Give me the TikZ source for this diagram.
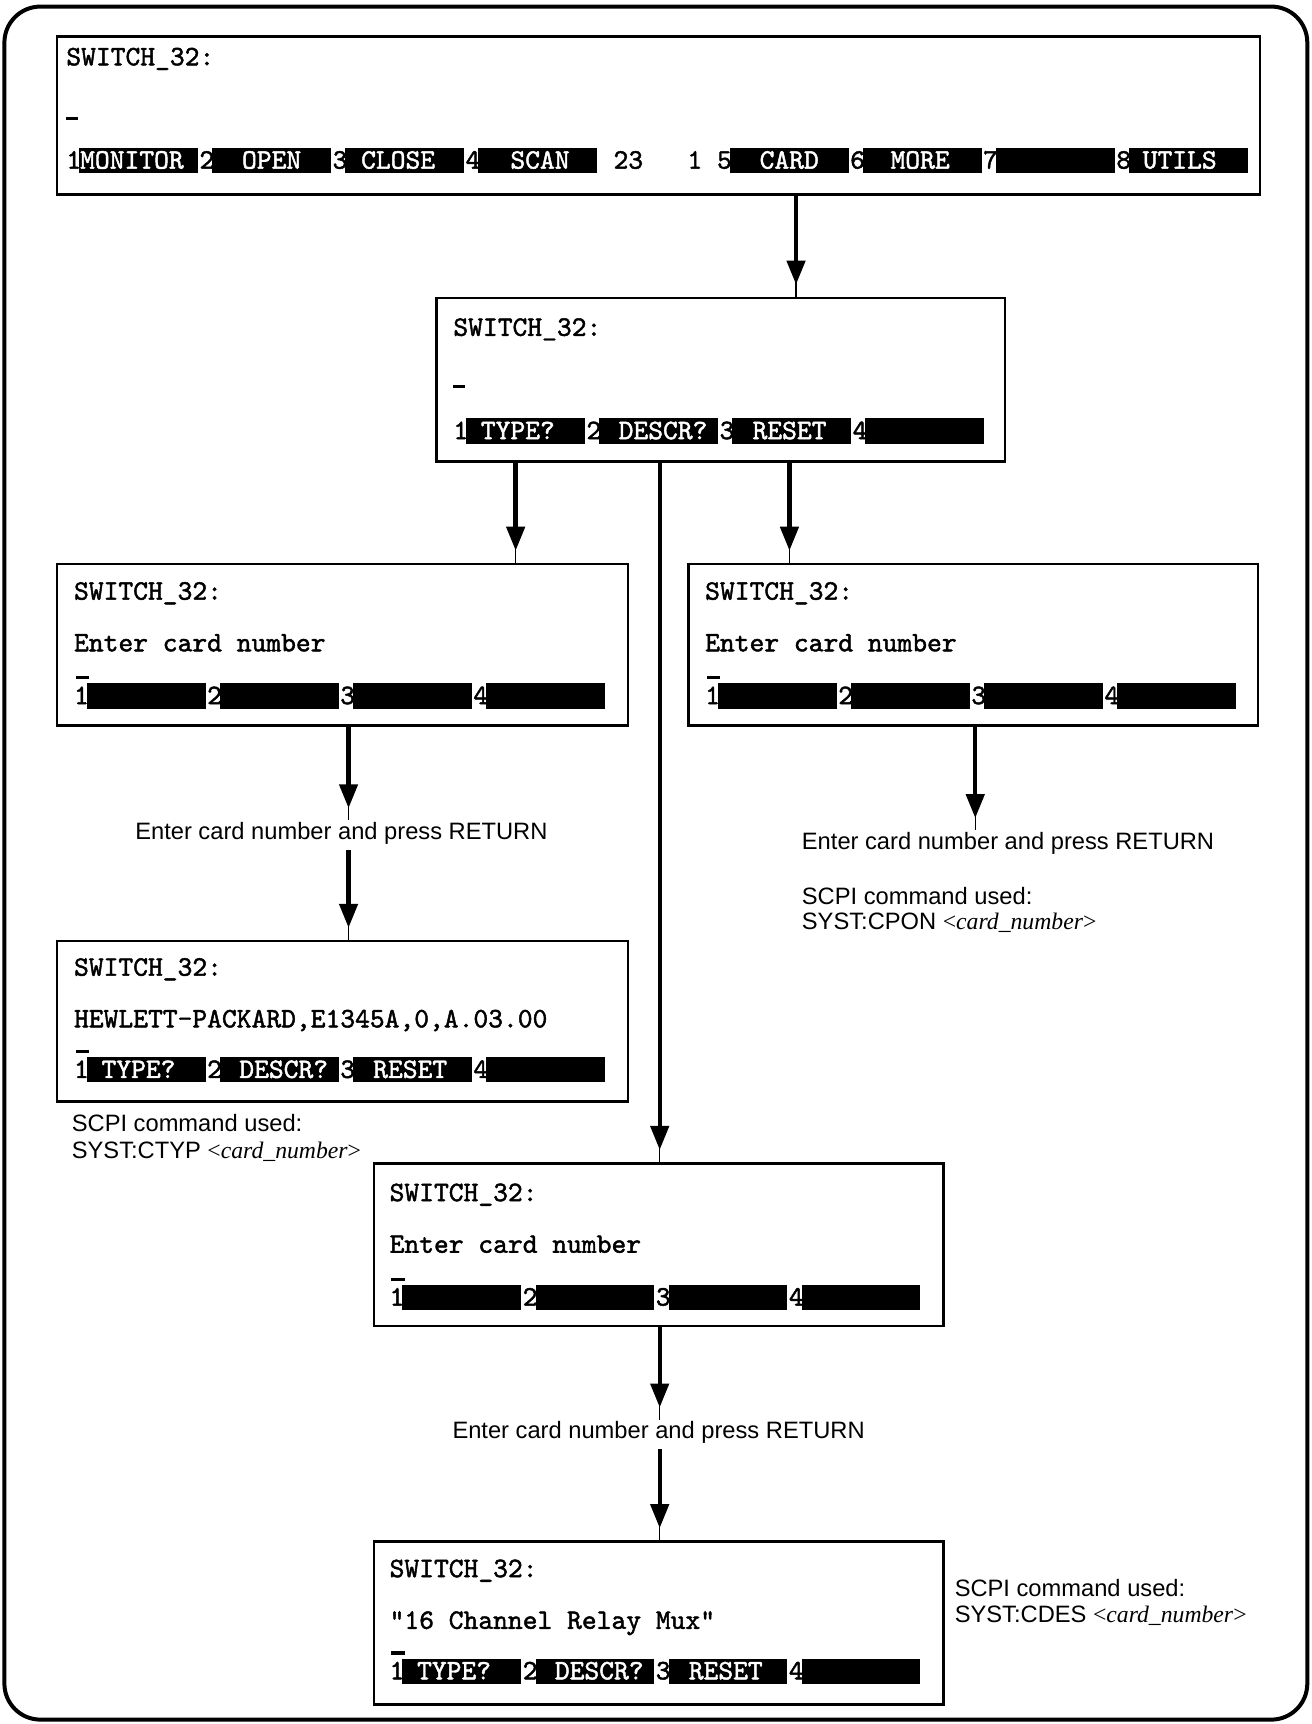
\documentclass[tikz,border=0pt]{standalone}
\usepackage{fontspec}
\setmainfont{Liberation Sans}
\newfontfamily\cmdserif{Liberation Serif}
\newfontfamily\scrface{lmmono10-regular}[Extension=.otf, FakeBold=1.6]
\usetikzlibrary{arrows.meta,fit}

\newcommand\scrfont{\scrface\fontsize{14.09pt}{16pt}\selectfont}
\newcommand\capfont{\fontsize{11.85pt}{14pt}\selectfont}
\newcommand\cardarg{{\cmdserif<\textit{card\_number}>}}

\tikzset{
  screen/.style={draw, line width=1.3pt, inner sep=0pt},
  scr/.style={font=\scrfont, inner sep=0pt},
  inv/.style={scr, text=white},
  caption/.style={font=\capfont, inner sep=0pt, text height=9.5pt, text depth=5pt},
  note/.style={font=\capfont, inner sep=0pt, anchor=base west},
  flow/.style={line width=2.2pt, -{Triangle[width=9pt,length=12pt]}, shorten >=6pt},
  tail/.style={line width=0.7pt},
  frame/.style={line width=2pt, rounded corners=18pt},
}

% soft key row: #1 name prefix, #2 x of first digit, #3 row centre y,
% #4 list of column/digit/label/label shift
\newcommand\keyrow[4]{%
  \foreach \kc/\kd/\klab/\ksh in {#4} {
    \fill ({#2+\kc*13.45+12},{#3-11.5}) rectangle ({#2+\kc*13.45+120},{#3+11.5});
    \node[scr, anchor=base west] (#1k\kd) at ({#2+\kc*13.45},{#3+7.4}) {\kd};
    \node[inv, anchor=base] (#1l\kd) at ({#2+\kc*13.45+66+\ksh},{#3+7.4}) {\klab};
  }%
}

% connector: thin lead line to the target plus thick shaft with head
\newcommand\flowto[2]{\draw[tail] #1 -- #2; \draw[flow] #1 -- #2;}

\begin{document}
\begin{tikzpicture}[x=0.54985pt, y=-0.54985pt]
\useasboundingbox (0,0) rectangle (1193,1568);
\draw[frame] (4,6) rectangle (1189,1564);

% ---------- screens ----------
\node[screen, fit={(52,33) (1146,177)}] (s1) {};
\node[screen, fit={(397,271) (914,420)}] (s2) {};
\node[screen, fit={(52,513) (571,660)}] (s3) {};
\node[screen, fit={(626,513) (1144,660)}] (s4) {};
\node[screen, fit={(52,856) (571,1002)}] (s6) {};
\node[screen, fit={(340,1058) (858,1206)}] (s5) {};
\node[screen, fit={(340,1402) (858,1550)}] (s7) {};

% main menu
\node[scr, anchor=base west] (s1t) at (60,59.4) {SWITCH\_32:};
\fill (60,106) rectangle (71,109);
\keyrow{s1}{60}{146}{0/1/MONITOR/-6, 9/2/OPEN/0, 18/3/CLOSE/-6, 27/4/SCAN/2, 44/5/CARD/0, 53/6/MORE/-2, 62/7/{}/0, 71/8/UTILS/-8}
\node[scr, anchor=base west] (s1n23) at ({60+37*13.45},153.4) {23};
\node[scr, anchor=base west] (s1n1) at ({60+42*13.45},153.4) {1};

% card menu
\node[scr, anchor=base west] (s2t) at (412,305.4) {SWITCH\_32:};
\fill (412,350) rectangle (423,353);
\keyrow{s2}{412}{392}{0/1/TYPE?/-7, 9/2/DESCR?/4, 18/3/RESET/-2, 27/4/{}/0}

% type query prompt
\node[scr, anchor=base west] (s3t) at (67,545.4) {SWITCH\_32:};
\node[scr, anchor=base west] (s3m) at (67,592.4) {Enter card number};
\fill (69,615) rectangle (81,618);
\keyrow{s3}{67}{633}{0/1/{}/0, 9/2/{}/0, 18/3/{}/0, 27/4/{}/0}

% reset prompt
\node[scr, anchor=base west] (s4t) at (641,545.4) {SWITCH\_32:};
\node[scr, anchor=base west] (s4m) at (641,592.4) {Enter card number};
\fill (643,615) rectangle (655,618);
\keyrow{s4}{641}{633}{0/1/{}/0, 9/2/{}/0, 18/3/{}/0, 27/4/{}/0}

% type answer
\node[scr, anchor=base west] (s6t) at (67,887.4) {SWITCH\_32:};
\node[scr, anchor=base west] (s6m) at (67,934.4) {HEWLETT-PACKARD,E1345A,0,A.03.00};
\fill (69,955) rectangle (81,958);
\keyrow{s6}{67}{973}{0/1/TYPE?/-7, 9/2/DESCR?/4, 18/3/RESET/-2, 27/4/{}/0}

% description prompt
\node[scr, anchor=base west] (s5t) at (354,1092.4) {SWITCH\_32:};
\node[scr, anchor=base west] (s5m) at (354,1139.4) {Enter card number};
\fill (356,1162) rectangle (368,1165);
\keyrow{s5}{354}{1180}{0/1/{}/0, 9/2/{}/0, 18/3/{}/0, 27/4/{}/0}

% description answer
\node[scr, anchor=base west] (s7t) at (354,1434.4) {SWITCH\_32:};
\node[scr, anchor=base west] (s7m) at (354,1481.4) {"16 Channel Relay Mux"};
\fill (356,1502) rectangle (368,1505);
\keyrow{s7}{354}{1520}{0/1/TYPE?/-7, 9/2/DESCR?/4, 18/3/RESET/-2, 27/4/{}/0}

% ---------- captions ----------
\node[caption, anchor=base] (l3) at (310.5,763.7) {Enter card number and press RETURN};
\node[caption, anchor=base west] (l4) at (729,772.7) {Enter card number and press RETURN};
\node[caption, anchor=base] (l5) at (599,1308.7) {Enter card number and press RETURN};

\node[note] (c6a) at (65,1028.7) {SCPI command used:};
\node[note] (c6b) at (65,1053.7) {SYST:CTYP \cardarg};
\node[note] (c4a) at (729,822.7) {SCPI command used:};
\node[note] (c4b) at (729,845.7) {SYST:CPON \cardarg};
\node[note] (c7a) at (868,1451.7) {SCPI command used:};
\node[note] (c7b) at (868,1475.7) {SYST:CDES \cardarg};

% ---------- connectors ----------
\coordinate (xa) at (724,0);
\coordinate (xb) at (469,0);
\coordinate (xc) at (600,0);
\coordinate (xd) at (718,0);
\coordinate (xe) at (317,0);
\coordinate (xf) at (887,0);

\flowto{(xa |- s1.south)}{(xa |- s2.north)}
\flowto{(xb |- s2.south)}{(xb |- s3.north)}
\flowto{(xd |- s2.south)}{(xd |- s4.north)}
\flowto{(xc |- s2.south)}{(xc |- s5.north)}
\flowto{(xe |- s3.south)}{(xe |- l3.north)}
\flowto{(xe |- l3.south)}{(xe |- s6.north)}
\flowto{(xf |- s4.south)}{(xf |- l4.north)}
\flowto{(xc |- s5.south)}{(xc |- l5.north)}
\flowto{(xc |- l5.south)}{(xc |- s7.north)}
\end{tikzpicture}
\end{document}
